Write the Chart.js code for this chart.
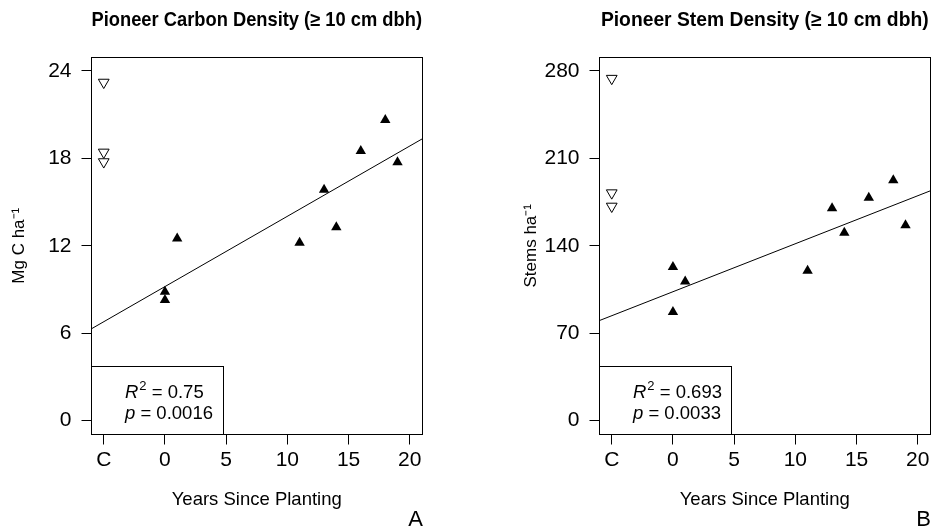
<!DOCTYPE html>
<html>
<head>
<meta charset="utf-8">
<script src="https://cdn.jsdelivr.net/npm/chart.js@4.4.1/dist/chart.umd.min.js"></script>
<style>
  html, body { margin: 0; padding: 0; background: #fff; overflow: hidden; }
  #wrap { position: relative; width: 933px; height: 529px; overflow: hidden; }
  #wrap canvas { position: absolute; top: 0; }
  #carbonChart { left: 0; }
  #stemChart { left: 508px; }
</style>
</head>
<body>
<div id="wrap">
  <canvas id="carbonChart" width="508" height="529"></canvas>
  <canvas id="stemChart" width="508" height="529"></canvas>
</div>
<script>
// planted stands, years since planting
const plantedYears = [0, 0, 1, 11, 13, 14, 16, 18, 19];
const carbonPlanted = [8.85, 8.28, 12.5, 12.2, 15.85, 13.27, 18.5, 20.64, 17.73];
const stemsPlanted = [123, 87, 111.3, 120, 170, 150.5, 178.5, 192.5, 156.4];

// control stands, all plotted in the "C" slot
const controlYear = -5;
const carbonControl = [23.22, 18.42, 17.76];
const stemsControl = [274, 182.3, 171.6];

// regression line at the two edges of the plot
const fitYears = [-6, 21];
const carbonFit = [6.3, 19.33];
const stemsFit = [80.1, 183.9];

const xTickValues = [-5, 0, 5, 10, 15, 20];
const xTickLabels = ['C', '0', '5', '10', '15', '20'];
const carbonTicks = [0, 6, 12, 18, 24];
const stemsTicks = [0, 70, 140, 210, 280];

const statsR2 = ['0.75', '0.693'];
const statsP = ['0.0016', '0.0033'];

const FONT = '"Liberation Sans", Arial, Helvetica, sans-serif';
Chart.defaults.font.family = FONT;
Chart.defaults.color = '#000';

function toPoints(xs, ys) {
	return xs.map((x, i) => ({ x: x, y: ys[i] }));
}

// box round the plot, R²/p legend in the corner, panel letter
const framePlugin = {
	id: 'frame',
	afterDatasetsDraw(chart, args, opts) {
		const ctx = chart.ctx;
		const a = chart.chartArea;
		const l = Math.floor(a.left) + 0.5;
		const r = Math.floor(a.right) + 0.5;
		const t = Math.floor(a.top) + 0.5;
		const b = Math.floor(a.bottom) + 0.5;

		ctx.save();
		ctx.strokeStyle = '#000';
		ctx.lineWidth = 1;
		ctx.strokeRect(l, t, r - l, b - t);

		// legend box
		const bw = 132, bh = 68;
		ctx.fillStyle = '#fff';
		ctx.fillRect(l, b - bh, bw, bh);
		ctx.strokeRect(l, b - bh, bw, bh);

		ctx.fillStyle = '#000';
		ctx.textBaseline = 'alphabetic';
		ctx.textAlign = 'left';
		let x = l + 33.5;
		const y1 = b - bh + 31;
		const y2 = b - bh + 52;

		ctx.font = 'italic 18.5px ' + FONT;
		ctx.fillText('R', x, y1);
		let w = ctx.measureText('R').width;
		ctx.font = '13px ' + FONT;
		ctx.fillText('2', x + w + 1, y1 - 7.5);
		w += 1 + ctx.measureText('2').width;
		ctx.font = '18.5px ' + FONT;
		ctx.fillText(' = ' + opts.r2, x + w, y1);

		ctx.font = 'italic 18.5px ' + FONT;
		ctx.fillText('p', x, y2);
		w = ctx.measureText('p').width;
		ctx.font = '18.5px ' + FONT;
		ctx.fillText(' = ' + opts.p, x + w, y2);

		// panel letter
		ctx.font = '22px ' + FONT;
		ctx.textAlign = 'right';
		ctx.fillText(opts.letter, a.right + 1, 526);
		ctx.restore();
	}
};

function buildPanel(canvasId, cfg) {
	const tickGrid = {
		drawOnChartArea: false,
		drawTicks: true,
		tickLength: 10,
		tickColor: '#000',
		tickWidth: 1,
		color: '#000'
	};

	return new Chart(document.getElementById(canvasId), {
		type: 'scatter',
		data: {
			datasets: [
				{
					data: toPoints(fitYears, cfg.fit),
					showLine: true,
					borderColor: '#000',
					borderWidth: 1,
					pointRadius: 0
				},
				{
					data: toPoints(plantedYears, cfg.planted),
					pointStyle: 'triangle',
					pointRadius: 6,
					backgroundColor: '#000',
					borderColor: '#000',
					borderWidth: 0
				},
				{
					data: cfg.control.map((v) => ({ x: controlYear, y: v })),
					pointStyle: 'triangle',
					rotation: 180,
					pointRadius: 6.2,
					backgroundColor: '#fff',
					borderColor: '#000',
					borderWidth: 1
				}
			]
		},
		options: {
			responsive: false,
			animation: false,
			devicePixelRatio: 1,
			layout: { padding: { left: 0, right: 86, top: 0, bottom: 0 } },
			plugins: {
				legend: { display: false },
				tooltip: { enabled: false },
				title: {
					display: true,
					text: cfg.title,
					fullSize: false,
					color: '#000',
					font: { size: 19.3, weight: 'bold' },
					padding: { top: 9.4, bottom: 24.44 }
				},
				frame: { letter: cfg.letter, r2: cfg.r2, p: cfg.p }
			},
			scales: {
				x: {
					type: 'linear',
					min: -6,
					max: 21,
					afterBuildTicks: (s) => {
						s.ticks = xTickValues.map((v) => ({ value: v }));
					},
					afterFit: (s) => {
						s.height = 94.5;
					},
					ticks: {
						autoSkip: false,
						maxRotation: 0,
						padding: 3.5,
						font: { size: 21 },
						callback: (v) => xTickLabels[xTickValues.indexOf(v)]
					},
					grid: tickGrid,
					border: { display: false },
					title: {
						display: true,
						text: 'Years Since Planting',
						font: { size: 18.5 },
						padding: { top: 0, bottom: 17.6 }
					}
				},
				y: {
					type: 'linear',
					min: cfg.yMin,
					max: cfg.yMax,
					afterBuildTicks: (s) => {
						s.ticks = cfg.yTicks.map((v) => ({ value: v }));
					},
					afterFit: (s) => {
						s.width = 91.5;
					},
					ticks: {
						autoSkip: false,
						padding: 10,
						font: { size: 21 }
					},
					grid: tickGrid,
					border: { display: false },
					title: {
						display: true,
						text: cfg.yTitle,
						font: { size: 17 },
						padding: { top: cfg.yTitlePad, bottom: 0 }
					}
				}
			}
		},
		plugins: [framePlugin]
	});
}

buildPanel('carbonChart', {
	title: 'Pioneer Carbon Density (≥ 10 cm dbh)',
	yTitle: 'Mg C ha⁻¹',
	yTitlePad: 9.5,
	planted: carbonPlanted,
	control: carbonControl,
	fit: carbonFit,
	yTicks: carbonTicks,
	yMin: -0.96,
	yMax: 24.96,
	r2: statsR2[0],
	p: statsP[0],
	letter: 'A'
});

buildPanel('stemChart', {
	title: 'Pioneer Stem Density (≥ 10 cm dbh)',
	yTitle: 'Stems ha⁻¹',
	yTitlePad: 13.1,
	planted: stemsPlanted,
	control: stemsControl,
	fit: stemsFit,
	yTicks: stemsTicks,
	yMin: -11.2,
	yMax: 291.2,
	r2: statsR2[1],
	p: statsP[1],
	letter: 'B'
});
</script>
</body>
</html>
